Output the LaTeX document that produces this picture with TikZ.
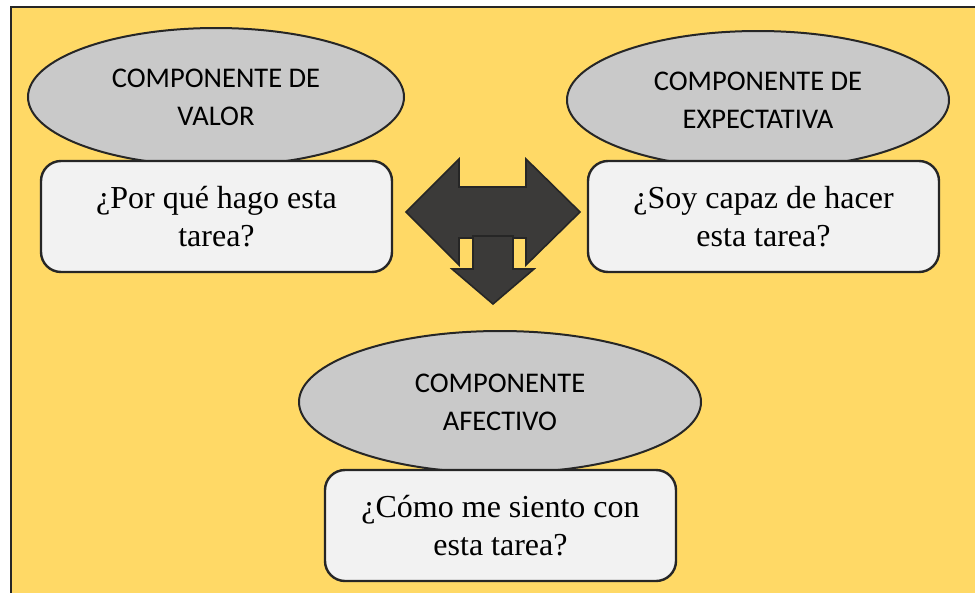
\documentclass[tikz,border=0pt]{standalone}
\usepackage{fontspec}
\setmainfont{Liberation Serif}
\newfontfamily\calib{Carlito}
\usetikzlibrary{shapes.geometric}
\definecolor{bgyellow}{HTML}{FFD966}
\definecolor{ellgray}{HTML}{C9C9C9}
\definecolor{boxgray}{HTML}{F2F2F2}
\definecolor{edgecol}{HTML}{262626}
\definecolor{arrowfill}{HTML}{3B3A39}
\tikzset{
  comp/.style={ellipse, draw=edgecol, fill=ellgray, line width=2pt, inner sep=0pt,
    minimum width=376pt, minimum height=138pt, align=center,
    font=\calib\fontsize{28.5}{38}\selectfont},
  question/.style={rectangle, rounded corners=20pt, draw=edgecol, fill=boxgray, line width=2.4pt,
    inner sep=0pt, minimum width=351pt, minimum height=111pt, align=center,
    font=\fontsize{32}{37.5}\selectfont},
  blockarrow/.style={fill=arrowfill, draw=edgecol, line width=1.6pt, line join=miter}
}
\begin{document}
\begin{tikzpicture}[x=1pt,y=-1pt]
\useasboundingbox (0,0) rectangle (975,592);
\fill[white] (0,0) rectangle (975,592);
\fill[bgyellow] (11,7) rectangle (990,610);
\draw[line width=2.2pt, edgecol] (11,610) -- (11,7) -- (990,7);

\node[comp] (valor) at (216,97) {COMPONENTE DE\\VALOR};
\node[question] (qvalor) at (216.5,216.5) {¿Por qué hago esta\\tarea?};

\node[comp, minimum width=382pt] (expect) at (758,100) {COMPONENTE DE\\EXPECTATIVA};
\node[question] (qexpect) at (763.5,216.5) {¿Soy capaz de hacer\\esta tarea?};

\node[comp, minimum width=402pt, minimum height=142pt] (afect) at (500,402) {COMPONENTE\\AFECTIVO};
\node[question] (qafect) at (500.5,525.5) {¿Cómo me siento con\\esta tarea?};

% left-right arrow
\coordinate (lrc) at (493,212);
\draw[blockarrow] (406,212) -- (459,159) -- (459,187) -- (526,187) -- (526,159) -- (580,212)
  -- (526,265) -- (526,238) -- (459,238) -- (459,265) -- cycle;
% down arrow
\draw[blockarrow] (473,236) -- (513,236) -- (513,269) -- (534,269) -- (493,304) -- (452,269)
  -- (473,269) -- cycle;
\end{tikzpicture}
\end{document}
